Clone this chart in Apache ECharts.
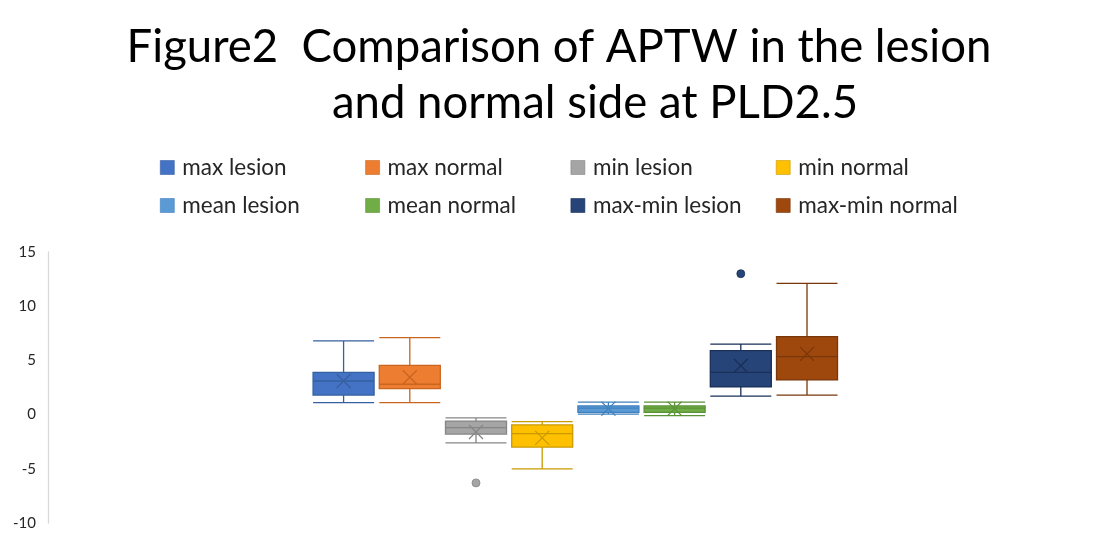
<!DOCTYPE html>
<html>
<head>
<meta charset="utf-8">
<script src="https://cdn.jsdelivr.net/npm/echarts@6/dist/echarts.min.js"></script>
<style>
  html, body { margin: 0; padding: 0; background: #fff; }
  #chart { width: 1118px; height: 549px; }
</style>
</head>
<body>
<div id="chart"></div>
<script>
// series names (legend order)
var seriesNames = ['max lesion', 'max normal', 'min lesion', 'min normal',
                   'mean lesion', 'mean normal', 'max-min lesion', 'max-min normal'];
// box stats: [min, Q1, median, Q3, max]
var boxStats = [
    [1.1, 1.8, 3.1, 3.9, 6.8],
    [1.1, 2.4, 2.8, 4.55, 7.1],
    [-2.6, -1.8, -1.2, -0.6, -0.3],
    [-5.0, -3.0, -1.75, -0.95, -0.65],
    [0.05, 0.2, 0.6, 0.8, 1.15],
    [-0.1, 0.2, 0.6, 0.8, 1.15],
    [1.7, 2.55, 3.9, 5.9, 6.5],
    [1.8, 3.2, 5.35, 7.2, 12.1]
];
var meanValues = [3.1, 3.45, -1.6, -2.15, 0.55, 0.55, 4.5, 5.6];
var outlierNames = ['min lesion', 'max-min lesion'];
var outlierValues = [-6.3, 13.0];
var yTicks = { min: -10, max: 15, interval: 5 };

var fillColors = ['#4472C4', '#ED7D31', '#A5A5A5', '#FFC000', '#5B9BD5', '#70AD47', '#264478', '#9E480E'];
var lineColors = ['#35609F', '#C9651F', '#858585', '#C99A00', '#3F80BD', '#5A9237', '#1A3058', '#7A370A'];

var myChart = echarts.init(document.getElementById('chart'));

var series = [];
seriesNames.forEach(function (name, i) {
    series.push({
        name: name,
        type: 'boxplot',
        xAxisIndex: 0,
        yAxisIndex: 0,
        boxWidth: [61, 61],
        data: [boxStats[i]],
        itemStyle: {
            color: fillColors[i],
            borderColor: lineColors[i],
            borderWidth: 1.3
        },
        emphasis: { disabled: true }
    });
});

// mean markers (X)
series.push({
    name: 'mean',
    type: 'scatter',
    xAxisIndex: 1,
    yAxisIndex: 1,
    symbol: 'path://M0,0L12,12M12,0L0,12',
    symbolSize: 14,
    z: 5,
    data: seriesNames.map(function (n, i) {
        return {
            value: [n, meanValues[i]],
            itemStyle: { color: 'rgba(0,0,0,0)', borderColor: lineColors[i], borderWidth: 1.3, opacity: 1 }
        };
    })
});

// outliers
series.push({
    name: 'outlier',
    type: 'scatter',
    xAxisIndex: 1,
    yAxisIndex: 1,
    symbol: 'circle',
    symbolSize: 8,
    data: outlierNames.map(function (n, i) {
        var k = seriesNames.indexOf(n);
        return { value: [n, outlierValues[i]], itemStyle: { color: fillColors[k], borderColor: lineColors[k], borderWidth: 0.8, opacity: 1 } };
    })
});

function legendData(names) {
    return names.map(function (n) {
        var k = seriesNames.indexOf(n);
        return { name: n, itemStyle: { color: fillColors[k], borderColor: lineColors[k], borderWidth: 0.6 } };
    });
}

var legendCommon = {
    icon: 'rect',
    itemWidth: 14,
    itemHeight: 14,
    itemGap: 7,
    left: 155,
    selectedMode: false,
    textStyle: {
        fontFamily: 'Lato',
        fontSize: 22.5,
        lineHeight: 22,
        color: '#262626',
        width: 176,
        padding: [0, 0, 0, 3]
    }
};

var option = {
    animation: false,
    backgroundColor: '#fff',
    title: [{
        text: 'Figure2  Comparison of APTW in the lesion',
        left: 'center',
        top: 19,
        textStyle: { fontFamily: 'Lato', fontSize: 45.5, fontWeight: 'normal', color: '#000' }
    }, {
        text: 'and normal side at PLD2.5',
        left: 590,
        textAlign: 'center',
        top: 75,
        textStyle: { fontFamily: 'Lato', fontSize: 45.5, fontWeight: 'normal', color: '#000' }
    }],
    legend: [
        Object.assign({}, legendCommon, { top: 151, data: legendData(seriesNames.slice(0, 4)) }),
        Object.assign({}, legendCommon, { top: 189, data: legendData(seriesNames.slice(4, 8)) })
    ],
    grid: [
        { left: 255, width: 640.6, top: 252, bottom: 26 },
        { left: 310.5, width: 529.6, top: 252, bottom: 26 }
    ],
    xAxis: [{
        type: 'category',
        gridIndex: 0,
        data: [''],
        axisLine: { show: false },
        axisTick: { show: false },
        axisLabel: { show: false }
    }, {
        type: 'category',
        gridIndex: 1,
        data: seriesNames,
        show: false
    }],
    yAxis: [{
        type: 'value',
        gridIndex: 0,
        min: yTicks.min,
        max: yTicks.max,
        interval: yTicks.interval,
        offset: 207,
        axisLine: { show: true, lineStyle: { color: '#d9d9d9', width: 1.3 } },
        axisTick: { show: false },
        splitLine: { show: false },
        axisLabel: { fontFamily: 'Lato', fontSize: 15, color: '#262626', margin: 12 }
    }, {
        type: 'value',
        gridIndex: 1,
        min: yTicks.min,
        max: yTicks.max,
        interval: yTicks.interval,
        show: false,
        splitLine: { show: false }
    }],
    series: series
};
myChart.setOption(option);
</script>
</body>
</html>
